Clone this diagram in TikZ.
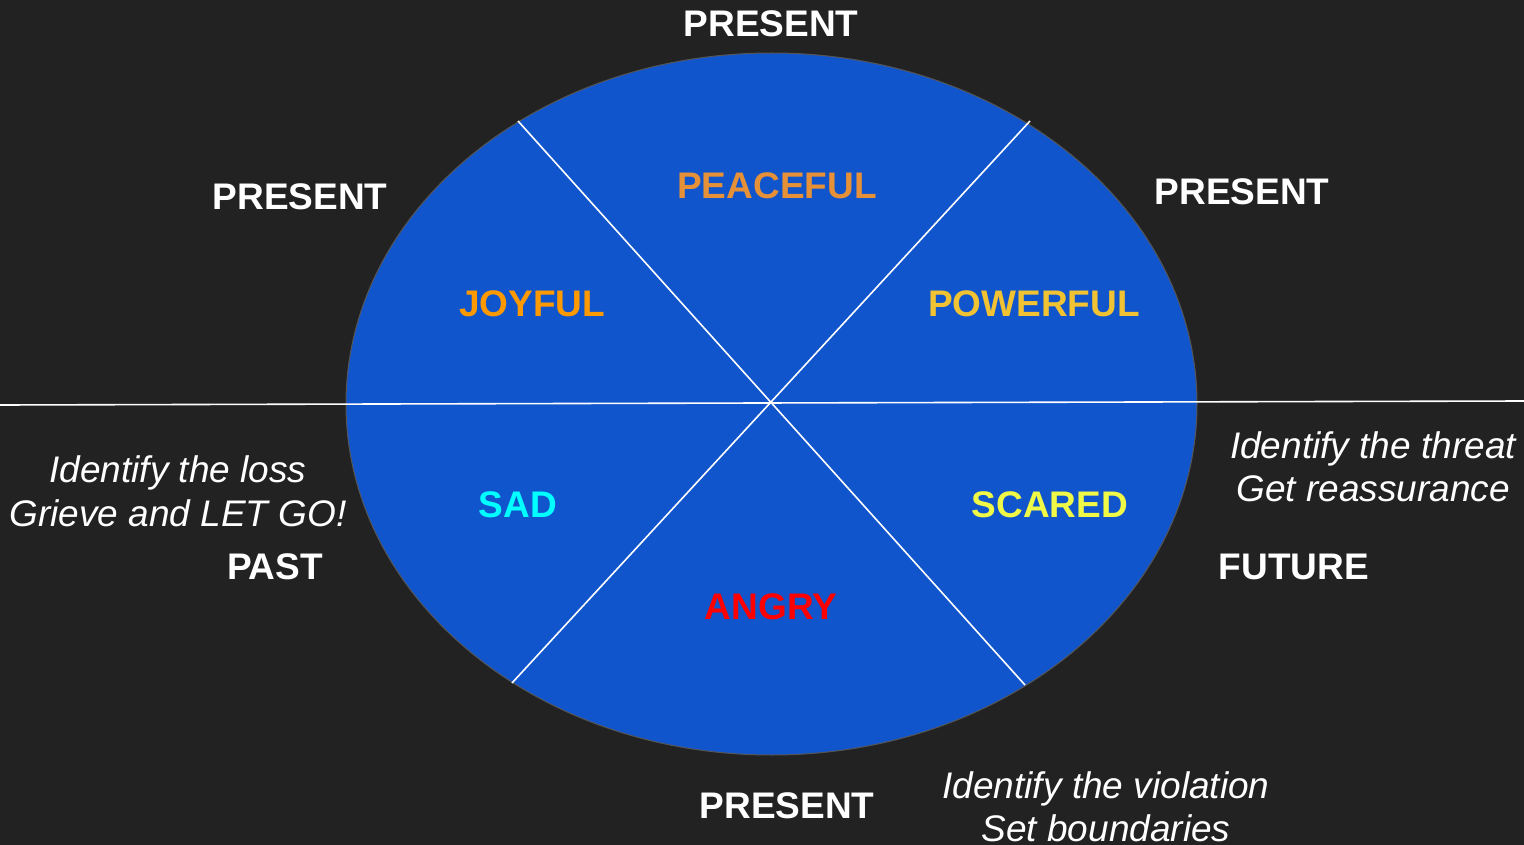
\documentclass[tikz,border=0pt]{standalone}
\usepackage{fontspec}
\setmainfont{Liberation Sans}
\usetikzlibrary{shapes.geometric}
\definecolor{bg}{HTML}{222222}
\definecolor{wheel}{HTML}{1155CC}
\definecolor{rim}{HTML}{555555}
\definecolor{cpeace}{HTML}{E69138}
\definecolor{cjoy}{HTML}{FF9900}
\definecolor{cpower}{HTML}{F1C232}
\definecolor{csad}{HTML}{00FFFF}
\definecolor{cscared}{HTML}{F0FA46}
\definecolor{cangry}{HTML}{FF0000}
\begin{document}
\begin{tikzpicture}[x=1pt,y=-1pt,
  boldlbl/.style={font=\fontsize{37}{44}\selectfont\bfseries, text depth=0pt, inner sep=0pt, anchor=center},
  itlbl/.style={font=\fontsize{37}{44}\selectfont\itshape, text=white, inner sep=0pt, anchor=base},
  divider/.style={draw=white, line width=1.6pt}]
\fill[bg] (0,0) rectangle (1524,845);
\useasboundingbox (0,0) rectangle (1524,845);
\node[ellipse, draw=rim, line width=1pt, fill=wheel, minimum width=851pt, minimum height=702pt, inner sep=0pt] (wheel) at (771.5,404) {};
% dividers
\coordinate (hl) at (0,405);
\coordinate (hr) at (1524,401);
\coordinate (d1a) at (518,121);
\coordinate (d1b) at (1025,685);
\coordinate (d2a) at (1030,121);
\coordinate (d2b) at (512,683);
\draw[divider] (hl) -- (hr);
\draw[divider] (d1a) -- (d1b);
\draw[divider] (d2a) -- (d2b);
% emotions
\node[boldlbl, text=cpeace] (peace) at (777,186) {PEACEFUL};
\node[boldlbl, text=cjoy] (joy) at (532,304) {JOYFUL};
\node[boldlbl, text=cpower] (power) at (1034,304) {POWERFUL};
\node[boldlbl, text=csad] (sad) at (518,505) {SAD};
\node[boldlbl, text=cscared] (scared) at (1050,505) {SCARED};
\node[boldlbl, text=cangry] (angry) at (771,607) {ANGRY};
% time labels
\node[boldlbl, text=white] (ptop) at (771,24) {PRESENT};
\node[boldlbl, text=white] (pleft) at (300,197) {PRESENT};
\node[boldlbl, text=white] (pright) at (1242,192) {PRESENT};
\node[boldlbl, text=white] (pbot) at (787,806) {PRESENT};
\node[boldlbl, text=white] (past) at (275,567) {PAST};
\node[boldlbl, text=white] (future) at (1294,567) {FUTURE};
% advice
\node[itlbl] (loss1) at (178,482) {Identify the loss};
\node[itlbl] (loss2) at (178,526) {Grieve and LET GO!};
\node[itlbl] (thr1) at (1373,458) {Identify the threat};
\node[itlbl] (thr2) at (1373,501) {Get reassurance};
\node[itlbl] (vio1) at (1106,798) {Identify the violation};
\node[itlbl] (vio2) at (1106,841) {Set boundaries};
\end{tikzpicture}
\end{document}
